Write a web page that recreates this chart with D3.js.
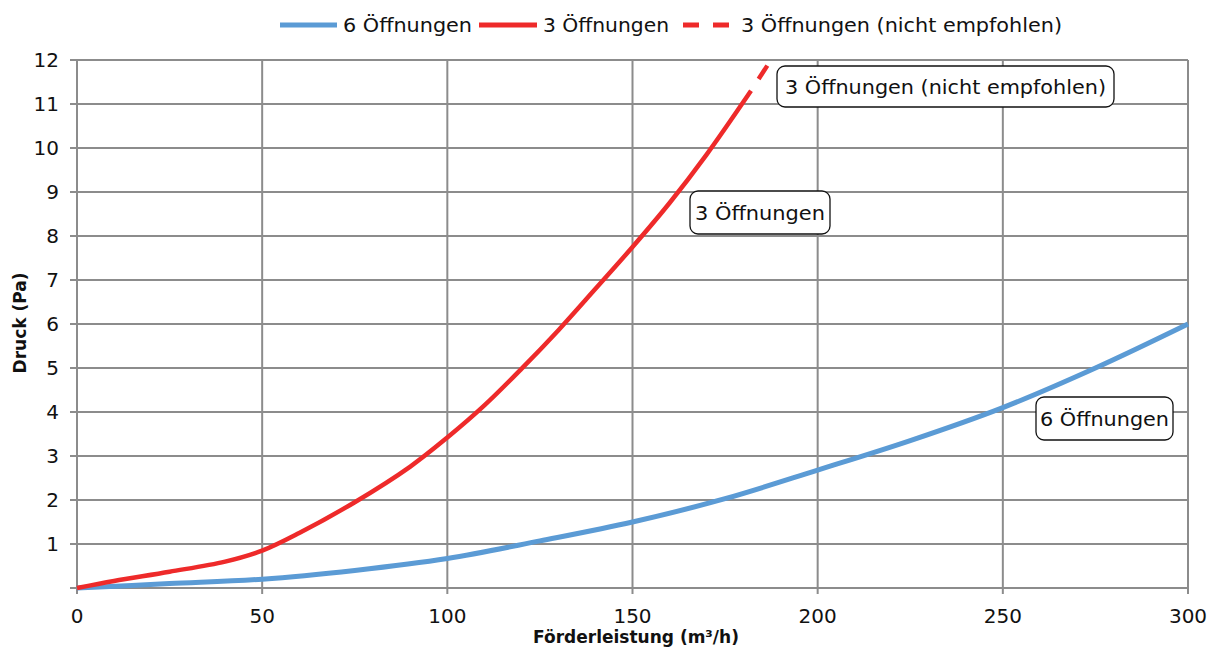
<!DOCTYPE html>
<html>
<head>
<meta charset="utf-8">
<script src="https://cdn.jsdelivr.net/npm/d3@7"></script>
<style>
  body { margin: 0; background: #fff; }
  svg text { font-family: "DejaVu Sans", sans-serif; fill: #111; }
</style>
</head>
<body>
<svg width="1207" height="652"></svg>
<script>
// Förderleistung (m³/h) vs Druck (Pa)
var flow6 = [0, 25, 50, 75, 100, 125, 150, 175, 200, 225, 250, 275, 300];
var druck6 = [0, 0.1, 0.2, 0.4, 0.67, 1.07, 1.5, 2.03, 2.68, 3.35, 4.1, 5.0, 6.0];

var flow3 = [0, 10, 25, 40, 50, 60, 75, 90, 100, 110, 120, 130, 140, 150, 160, 170, 182];
var druck3 = [0, 0.16, 0.37, 0.6, 0.85, 1.25, 1.95, 2.76, 3.42, 4.15, 4.98, 5.86, 6.8, 7.75, 8.75, 9.85, 11.3];

// nicht empfohlen
var flow3n = [182, 187];
var druck3n = [11.3, 11.95];

var xTicks = [0, 50, 100, 150, 200, 250, 300];
var yTicks = [0, 1, 2, 3, 4, 5, 6, 7, 8, 9, 10, 11, 12];

var blau = "#5b9bd5", rot = "#ee2a2a";

function draw() {
  var svg = d3.select("svg");
  var pl = 77, pr = 1188, pt = 60, pb = 588;

  var x = d3.scaleLinear().domain([0, 300]).range([pl, pr]);
  var y = d3.scaleLinear().domain([0, 12]).range([pb, pt]);

  // grid
  var grid = svg.append("g");
  grid.selectAll(".gx").data(xTicks).enter().append("line")
    .attr("x1", function(d) { return x(d); }).attr("x2", function(d) { return x(d); })
    .attr("y1", pt).attr("y2", pb + 6)
    .attr("stroke", "#8c8c8c").attr("stroke-width", 2);
  grid.selectAll(".gy").data(yTicks).enter().append("line")
    .attr("x1", pl - 7).attr("x2", pr)
    .attr("y1", function(d) { return y(d); }).attr("y2", function(d) { return y(d); })
    .attr("stroke", "#8c8c8c").attr("stroke-width", 2);

  // tick labels
  svg.selectAll(".xt").data(xTicks).enter().append("text")
    .attr("x", function(d) { return x(d); }).attr("y", 623)
    .attr("text-anchor", "middle").style("font-size", "20px")
    .text(function(d) { return d; });
  svg.selectAll(".yt").data(yTicks.slice(1)).enter().append("text")
    .attr("x", 59).attr("y", function(d) { return y(d) + 7; })
    .attr("text-anchor", "end").style("font-size", "20px")
    .text(function(d) { return d; });

  svg.append("text").attr("x", 636).attr("y", 643).attr("text-anchor", "middle")
    .style("font-size", "17px").style("font-weight", "bold")
    .text("Förderleistung (m³/h)");
  svg.append("text").attr("transform", "translate(26,323) rotate(-90)").attr("text-anchor", "middle")
    .style("font-size", "17px").style("font-weight", "bold")
    .text("Druck (Pa)");

  // curves
  var line = d3.line()
    .x(function(d) { return x(d[0]); })
    .y(function(d) { return y(d[1]); })
    .curve(d3.curveCatmullRom.alpha(0.5));

  svg.append("path").datum(d3.zip(flow6, druck6)).attr("d", line)
    .attr("fill", "none").attr("stroke", blau).attr("stroke-width", 5);
  svg.append("path").datum(d3.zip(flow3, druck3)).attr("d", line)
    .attr("fill", "none").attr("stroke", rot).attr("stroke-width", 4.5);
  svg.append("path").datum(d3.zip(flow3n, druck3n)).attr("d", line)
    .attr("fill", "none").attr("stroke", rot).attr("stroke-width", 4.5)
    .attr("stroke-dasharray", "0,14,16,100");

  // legend
  var legend = [
    { t: "6 Öffnungen", c: blau, dash: null, x: 280, w: 57, tx: 343, tw: 129 },
    { t: "3 Öffnungen", c: rot, dash: null, x: 479, w: 58, tx: 543, tw: 126 },
    { t: "3 Öffnungen (nicht empfohlen)", c: rot, dash: "16,14", x: 683, w: 48, tx: 741, tw: 321 }
  ];
  var lg = svg.selectAll(".lg").data(legend).enter().append("g");
  lg.append("line")
    .attr("x1", function(d) { return d.x; }).attr("x2", function(d) { return d.x + d.w; })
    .attr("y1", 25).attr("y2", 25)
    .attr("stroke", function(d) { return d.c; }).attr("stroke-width", 5)
    .attr("stroke-dasharray", function(d) { return d.dash; });
  lg.append("text").attr("x", function(d) { return d.tx; }).attr("y", 32)
    .attr("textLength", function(d) { return d.tw; }).attr("lengthAdjust", "spacingAndGlyphs")
    .style("font-size", "20px").text(function(d) { return d.t; });

  // callouts
  var callouts = [
    { t: "3 Öffnungen (nicht empfohlen)", x: 777, y: 66, w: 337, h: 41, tw: 321 },
    { t: "3 Öffnungen", x: 690, y: 191, w: 140, h: 43, tw: 130 },
    { t: "6 Öffnungen", x: 1036, y: 397, w: 137, h: 43, tw: 129 }
  ];
  var cg = svg.selectAll(".co").data(callouts).enter().append("g");
  cg.append("rect")
    .attr("x", function(d) { return d.x; }).attr("y", function(d) { return d.y; })
    .attr("width", function(d) { return d.w; }).attr("height", function(d) { return d.h; })
    .attr("rx", 8).attr("fill", "#fff").attr("stroke", "#111").attr("stroke-width", 1.3);
  cg.append("text")
    .attr("x", function(d) { return d.x + d.w / 2; }).attr("y", function(d) { return d.y + d.h / 2 + 7; })
    .attr("text-anchor", "middle").style("font-size", "20px")
    .attr("textLength", function(d) { return d.tw; }).attr("lengthAdjust", "spacingAndGlyphs")
    .text(function(d) { return d.t; });
}

draw();
</script>
</body>
</html>
